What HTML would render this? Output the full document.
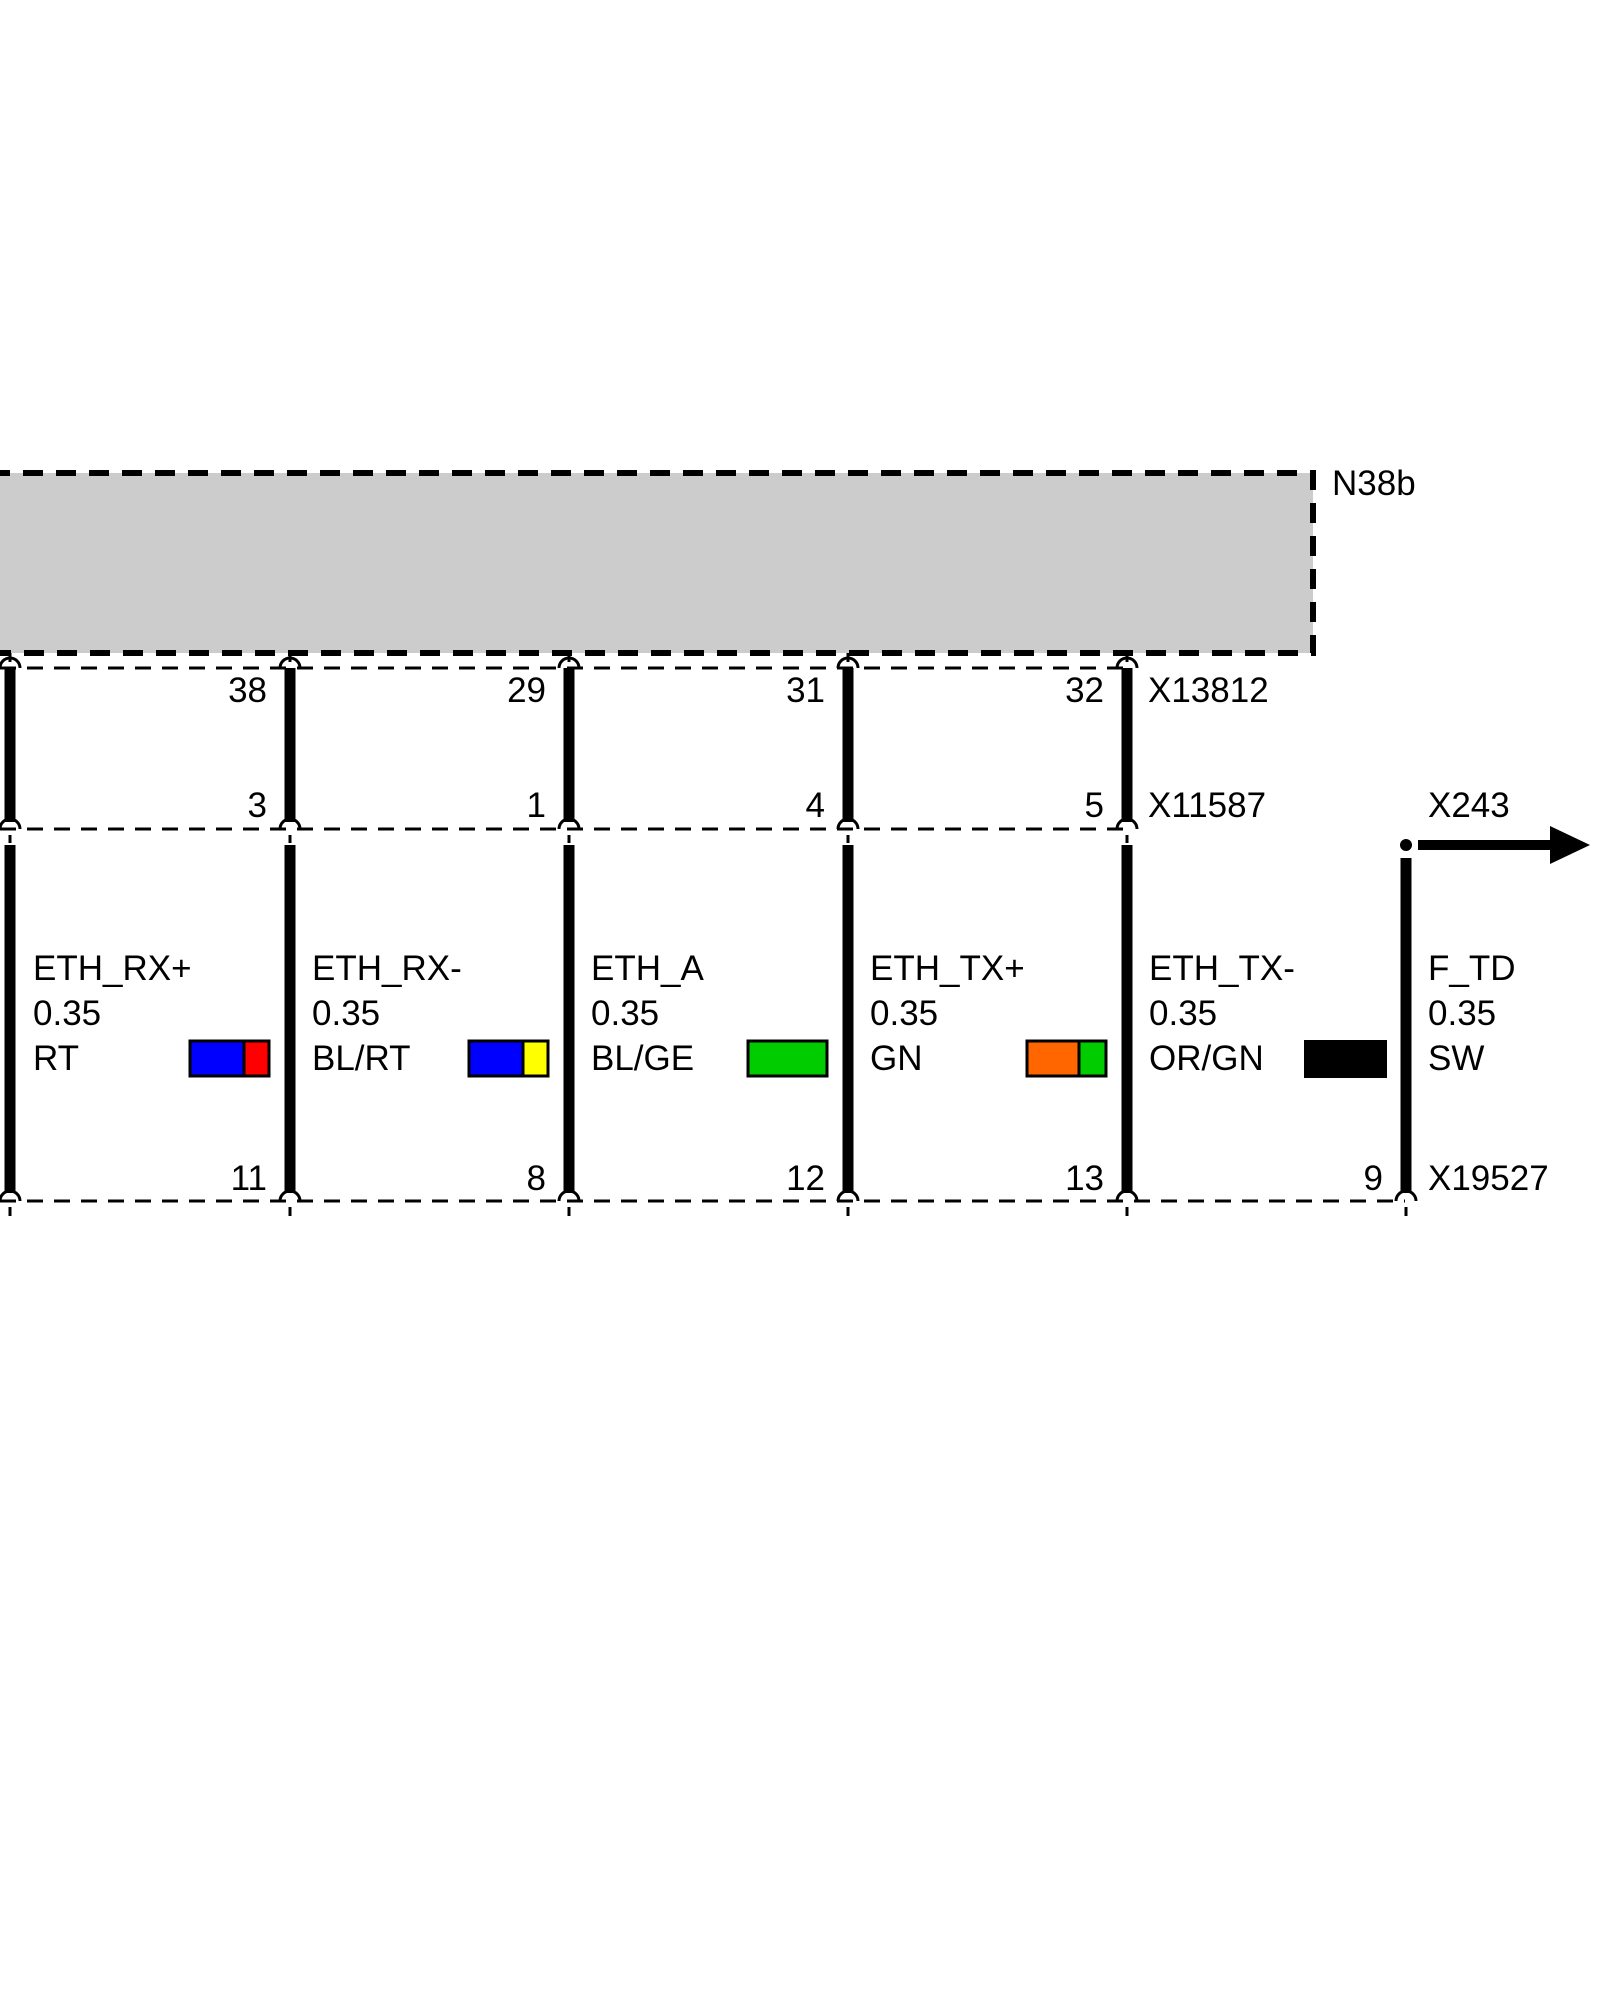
<!DOCTYPE html>
<html><head><meta charset="utf-8"><style>
html,body{margin:0;padding:0;background:#fff}
svg{display:block}
text{font-family:"Liberation Sans",Arial,sans-serif;font-size:35px;fill:#000}
</style></head><body>
<svg width="1600" height="2000" viewBox="0 0 1600 2000" xmlns="http://www.w3.org/2000/svg">
<rect x="-10" y="473" width="1323" height="180" fill="#cccccc"/>
<path d="M-10 473 H1313 V653 H-10" fill="none" stroke="#000" stroke-width="6" stroke-dasharray="20 13"/>
<text x="1332" y="495">N38b</text>

<g stroke="#000" stroke-width="3" stroke-dasharray="16 11" fill="none">
<line x1="0" y1="668" x2="1126" y2="668"/>
<line x1="0" y1="829" x2="1126" y2="829"/>
<line x1="0" y1="1201" x2="1405" y2="1201"/>
</g>

<g stroke="#000" fill="none">
<g stroke-width="3">
<line x1="10" y1="653" x2="10" y2="662"/><line x1="290" y1="653" x2="290" y2="662"/><line x1="569" y1="653" x2="569" y2="662"/><line x1="848" y1="653" x2="848" y2="662"/><line x1="1127" y1="653" x2="1127" y2="662"/>
<line x1="10" y1="835" x2="10" y2="843"/><line x1="290" y1="835" x2="290" y2="843"/><line x1="569" y1="835" x2="569" y2="843"/><line x1="848" y1="835" x2="848" y2="843"/><line x1="1127" y1="835" x2="1127" y2="843"/>
<line x1="10" y1="1207" x2="10" y2="1216"/><line x1="290" y1="1207" x2="290" y2="1216"/><line x1="569" y1="1207" x2="569" y2="1216"/><line x1="848" y1="1207" x2="848" y2="1216"/><line x1="1127" y1="1207" x2="1127" y2="1216"/><line x1="1406" y1="1207" x2="1406" y2="1216"/>
</g>
<g stroke-width="11">
<line x1="10" y1="668" x2="10" y2="822"/><line x1="290" y1="668" x2="290" y2="822"/><line x1="569" y1="668" x2="569" y2="822"/><line x1="848" y1="668" x2="848" y2="822"/><line x1="1127" y1="668" x2="1127" y2="822"/>
<line x1="10" y1="845" x2="10" y2="1193"/><line x1="290" y1="845" x2="290" y2="1193"/><line x1="569" y1="845" x2="569" y2="1193"/><line x1="848" y1="845" x2="848" y2="1193"/><line x1="1127" y1="845" x2="1127" y2="1193"/>
<line x1="1406" y1="858" x2="1406" y2="1193"/>
</g>
<g stroke-width="3">
<path d="M0 668 A10 10 0 0 1 20 668"/><path d="M280 668 A10 10 0 0 1 300 668"/><path d="M559 668 A10 10 0 0 1 579 668"/><path d="M838 668 A10 10 0 0 1 858 668"/><path d="M1117 668 A10 10 0 0 1 1137 668"/>
<path d="M0 829 A10 10 0 0 1 20 829"/><path d="M280 829 A10 10 0 0 1 300 829"/><path d="M559 829 A10 10 0 0 1 579 829"/><path d="M838 829 A10 10 0 0 1 858 829"/><path d="M1117 829 A10 10 0 0 1 1137 829"/>
<path d="M0 1201 A10 10 0 0 1 20 1201"/><path d="M280 1201 A10 10 0 0 1 300 1201"/><path d="M559 1201 A10 10 0 0 1 579 1201"/><path d="M838 1201 A10 10 0 0 1 858 1201"/><path d="M1117 1201 A10 10 0 0 1 1137 1201"/><path d="M1396 1201 A10 10 0 0 1 1416 1201"/>
</g>
</g>

<circle cx="1406" cy="845" r="7" fill="#000" stroke="#fff" stroke-width="2"/>
<line x1="1418" y1="845" x2="1553" y2="845" stroke="#000" stroke-width="10"/>
<polygon points="1550,826 1590,845 1550,864" fill="#000"/>

<g text-anchor="end">
<text x="267" y="702">38</text><text x="546" y="702">29</text><text x="825" y="702">31</text><text x="1104" y="702">32</text>
<text x="267" y="817">3</text><text x="546" y="817">1</text><text x="825" y="817">4</text><text x="1104" y="817">5</text>
<text x="267" y="1190">11</text><text x="546" y="1190">8</text><text x="825" y="1190">12</text><text x="1104" y="1190">13</text><text x="1383" y="1190">9</text>
</g>
<text x="1148" y="702">X13812</text>
<text x="1148" y="817">X11587</text>
<text x="1428" y="817">X243</text>
<text x="1428" y="1190">X19527</text>

<text x="33" y="980">ETH_RX+</text><text x="33" y="1025">0.35</text><text x="33" y="1070">RT</text>
<text x="312" y="980">ETH_RX-</text><text x="312" y="1025">0.35</text><text x="312" y="1070">BL/RT</text>
<text x="591" y="980">ETH_A</text><text x="591" y="1025">0.35</text><text x="591" y="1070">BL/GE</text>
<text x="870" y="980">ETH_TX+</text><text x="870" y="1025">0.35</text><text x="870" y="1070">GN</text>
<text x="1149" y="980">ETH_TX-</text><text x="1149" y="1025">0.35</text><text x="1149" y="1070">OR/GN</text>
<text x="1428" y="980">F_TD</text><text x="1428" y="1025">0.35</text><text x="1428" y="1070">SW</text>

<g stroke="#000" stroke-width="3">
<rect x="190" y="1041" width="54" height="35" fill="#0000ff"/><rect x="244" y="1041" width="25" height="35" fill="#ff0000"/>
<rect x="469" y="1041" width="54" height="35" fill="#0000ff"/><rect x="523" y="1041" width="25" height="35" fill="#ffff00"/>
<rect x="748" y="1041" width="79" height="35" fill="#00cc00"/>
<rect x="1027" y="1041" width="52" height="35" fill="#ff6600"/><rect x="1079" y="1041" width="27" height="35" fill="#00cc00"/>
</g>
<rect x="1304" y="1040" width="83" height="38" fill="#000"/>
</svg>
</body></html>
